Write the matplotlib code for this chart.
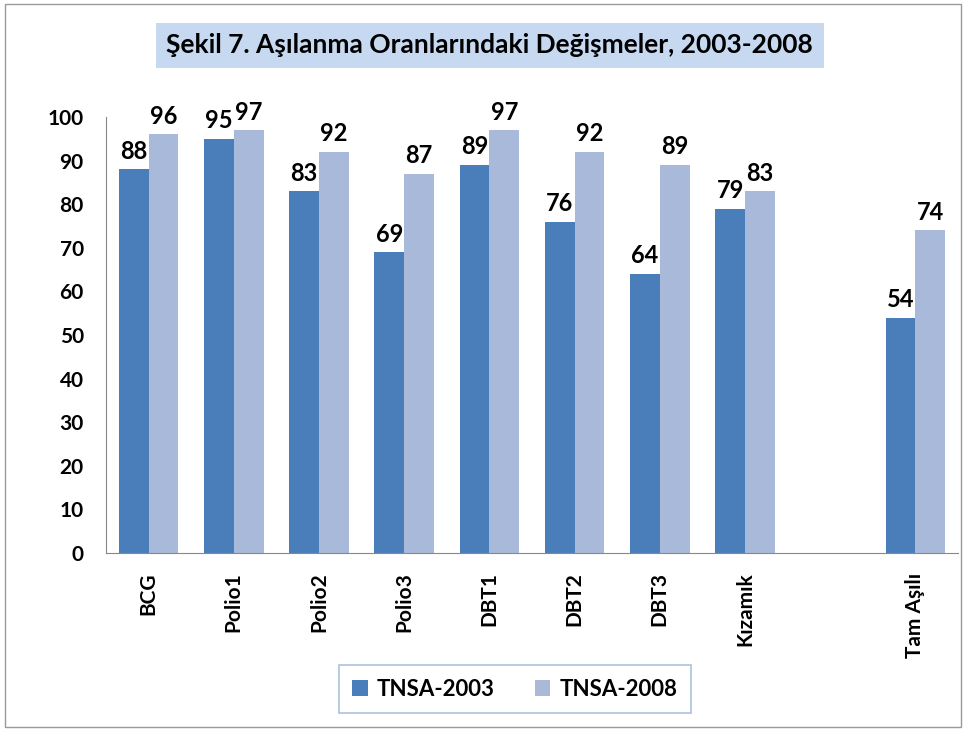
import matplotlib.pyplot as plt
import numpy as np
from matplotlib.patches import Rectangle

plt.rcParams['font.family'] = ['Lato', 'DejaVu Sans']

categories = ['BCG', 'Polio1', 'Polio2', 'Polio3', 'DBT1', 'DBT2', 'DBT3', 'Kızamık', '', 'Tam Aşılı']
tnsa_2003 = [88, 95, 83, 69, 89, 76, 64, 79, None, 54]
tnsa_2008 = [96, 97, 92, 87, 97, 92, 89, 83, None, 74]
series_names = ['TNSA-2003', 'TNSA-2008']
colors = ['#4a7ebb', '#a8b9d9']

fig = plt.figure(figsize=(9.66, 7.31), dpi=100)
ax = fig.add_axes([0.1097, 0.2435, 0.882, 0.5965])

x = np.arange(len(categories))
w = 0.35
for i, (vals, name, c) in enumerate(zip([tnsa_2003, tnsa_2008], series_names, colors)):
    xs = [xi for xi, v in zip(x, vals) if v is not None]
    vs = [v for v in vals if v is not None]
    off = (i - 0.5) * w
    bars = ax.bar(np.array(xs) + off, vs, width=w, color=c, label=name)
    for b, v in zip(bars, vs):
        ax.text(b.get_x() + b.get_width() / 2, v + 1.5, str(v), ha='center', va='bottom',
                fontsize=17, fontweight='bold')

ax.set_xlim(-0.5, len(categories) - 0.5)
ax.set_ylim(0, 100)
ax.set_yticks(range(0, 101, 10))
ax.set_xticks(x)
ax.set_xticklabels(categories, rotation=90, fontsize=15, fontweight='bold')
ax.tick_params(axis='y', labelsize=15, length=0, pad=16)
ax.tick_params(axis='x', length=0, pad=14)
for lbl in ax.get_yticklabels():
    lbl.set_fontweight('bold')
for s in ['top', 'right']:
    ax.spines[s].set_visible(False)
ax.spines['left'].set_color('#888888')
ax.spines['bottom'].set_color('#888888')

fig.text(0.507, 0.938, 'Şekil 7. Aşılanma Oranlarındaki Değişmeler, 2003-2008',
         ha='center', va='center', fontsize=19, fontweight='bold',
         bbox=dict(boxstyle='square,pad=0.4', facecolor='#c6d9f1', edgecolor='none'))

leg = fig.legend(loc='center', bbox_to_anchor=(0.533, 0.057), ncol=2, fontsize=16,
                 frameon=True, fancybox=False, handlelength=0.7, handleheight=0.7,
                 handletextpad=0.4, columnspacing=1.8, borderpad=0.6, borderaxespad=0)
leg.get_frame().set_edgecolor('#95b3d7')
leg.get_frame().set_linewidth(1.2)
for t in leg.get_texts():
    t.set_fontweight('bold')

fig.patches.append(Rectangle((0.005, 0.006), 0.99, 0.988, transform=fig.transFigure,
                             fill=False, edgecolor='#999999', linewidth=1))

fig.savefig('out.png', dpi=100)
